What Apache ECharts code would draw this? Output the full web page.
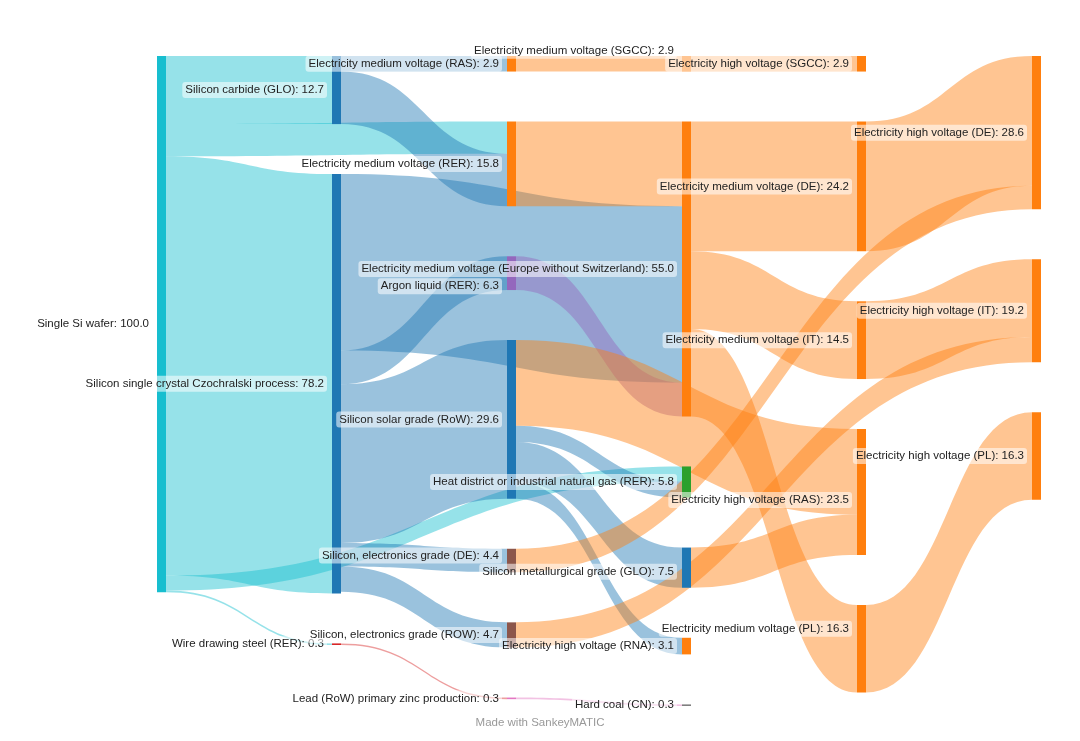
<!DOCTYPE html>
<html>
<head>
<meta charset="utf-8">
<script src="https://cdn.jsdelivr.net/npm/echarts@6/dist/echarts.min.js"></script>
<style>
html,body{margin:0;padding:0;background:#fff;}
#chart{width:1080px;height:741px;}
</style>
</head>
<body>
<div id="chart"></div>
<script>
// ---- data ----
const nodeNames = [
  'Single Si wafer',
  'Silicon carbide (GLO)',
  'Silicon single crystal Czochralski process',
  'Wire drawing steel (RER)',
  'Electricity medium voltage (RAS)',
  'Electricity medium voltage (RER)',
  'Argon liquid (RER)',
  'Silicon solar grade (RoW)',
  'Silicon, electronics grade (DE)',
  'Silicon, electronics grade (ROW)',
  'Lead (RoW) primary zinc production',
  'Electricity medium voltage (SGCC)',
  'Electricity medium voltage (Europe without Switzerland)',
  'Heat district or industrial natural gas (RER)',
  'Silicon metallurgical grade (GLO)',
  'Electricity high voltage (RNA)',
  'Hard coal (CN)',
  'Electricity high voltage (SGCC)',
  'Electricity medium voltage (DE)',
  'Electricity medium voltage (IT)',
  'Electricity high voltage (RAS)',
  'Electricity medium voltage (PL)',
  'Electricity high voltage (DE)',
  'Electricity high voltage (IT)',
  'Electricity high voltage (PL)'
];
const nodeValues = [
  100.0, 12.7, 78.2, 0.3, 2.9, 15.8, 6.3, 29.6, 4.4, 4.7, 0.3,
  2.9, 55.0, 5.8, 7.5, 3.1, 0.3,
  2.9, 24.2, 14.5, 23.5, 16.3,
  28.6, 19.2, 16.3
];
const linkSources = [
  'Single Si wafer','Single Si wafer','Single Si wafer','Single Si wafer','Single Si wafer',
  'Silicon carbide (GLO)','Silicon carbide (GLO)',
  'Silicon single crystal Czochralski process','Silicon single crystal Czochralski process',
  'Silicon single crystal Czochralski process','Silicon single crystal Czochralski process',
  'Silicon single crystal Czochralski process',
  'Wire drawing steel (RER)',
  'Electricity medium voltage (RAS)',
  'Electricity medium voltage (RER)',
  'Argon liquid (RER)',
  'Silicon solar grade (RoW)','Silicon solar grade (RoW)','Silicon solar grade (RoW)','Silicon solar grade (RoW)',
  'Silicon, electronics grade (DE)',
  'Silicon, electronics grade (ROW)',
  'Lead (RoW) primary zinc production',
  'Electricity medium voltage (SGCC)',
  'Electricity medium voltage (Europe without Switzerland)',
  'Electricity medium voltage (Europe without Switzerland)',
  'Electricity medium voltage (Europe without Switzerland)',
  'Silicon metallurgical grade (GLO)',
  'Electricity medium voltage (DE)',
  'Electricity medium voltage (IT)',
  'Electricity medium voltage (PL)'
];
const linkTargets = [
  'Silicon carbide (GLO)','Silicon single crystal Czochralski process','Wire drawing steel (RER)',
  'Electricity medium voltage (RER)','Heat district or industrial natural gas (RER)',
  'Electricity medium voltage (RAS)','Electricity medium voltage (RER)',
  'Electricity medium voltage (Europe without Switzerland)','Argon liquid (RER)',
  'Silicon solar grade (RoW)','Silicon, electronics grade (DE)',
  'Silicon, electronics grade (ROW)',
  'Lead (RoW) primary zinc production',
  'Electricity medium voltage (SGCC)',
  'Electricity medium voltage (Europe without Switzerland)',
  'Electricity medium voltage (Europe without Switzerland)',
  'Electricity high voltage (RAS)','Heat district or industrial natural gas (RER)',
  'Silicon metallurgical grade (GLO)','Electricity high voltage (RNA)',
  'Electricity high voltage (DE)',
  'Electricity high voltage (IT)',
  'Hard coal (CN)',
  'Electricity high voltage (SGCC)',
  'Electricity medium voltage (DE)',
  'Electricity medium voltage (IT)',
  'Electricity medium voltage (PL)',
  'Electricity high voltage (RAS)',
  'Electricity high voltage (DE)',
  'Electricity high voltage (IT)',
  'Electricity high voltage (PL)'
];
const linkValues = [
  12.7, 78.2, 0.3, 6.0, 2.8,
  2.9, 9.8,
  32.9, 6.3, 29.6, 4.4, 4.7,
  0.3,
  2.9,
  15.8,
  6.3,
  16.0, 3.0, 7.5, 3.1,
  4.4,
  4.7,
  0.3,
  2.9,
  24.2, 14.5, 16.3,
  7.5,
  24.2, 14.5, 16.3
];

// ---- styles ----
const ORANGE = '#ff7f0e', BLUE = '#1f77b4', CYAN = '#17becf';
const nodeColor = {
  'Single Si wafer': CYAN,
  'Silicon carbide (GLO)': BLUE,
  'Silicon single crystal Czochralski process': BLUE,
  'Wire drawing steel (RER)': '#d62728',
  'Argon liquid (RER)': '#9467bd',
  'Silicon solar grade (RoW)': BLUE,
  'Silicon, electronics grade (DE)': '#8c564b',
  'Silicon, electronics grade (ROW)': '#8c564b',
  'Lead (RoW) primary zinc production': '#e377c2',
  'Heat district or industrial natural gas (RER)': '#2ca02c',
  'Silicon metallurgical grade (GLO)': BLUE,
  'Hard coal (CN)': '#7f7f7f'
};
function colorOf(n) { return nodeColor[n] || ORANGE; }
// links into these targets take the target colour (right half of the diagram)
const targetColoured = new Set([
  'Electricity high voltage (RAS)','Electricity high voltage (DE)','Electricity high voltage (IT)'
]);
// small label nudges so neighbouring labels do not collide
const labelNudge = {
  'Electricity medium voltage (SGCC)': [0, -13],
  'Argon liquid (RER)': [0, 13],
  'Electricity medium voltage (PL)': [0, -20],
  'Electricity high voltage (RAS)': [0, 8],
  'Silicon, electronics grade (DE)': [0, -5],
  'Silicon metallurgical grade (GLO)': [0, 4]
};

const nodes = nodeNames.map((n, i) => {
  const d = { name: n, value: nodeValues[i], itemStyle: { color: colorOf(n), borderWidth: 0 } };
  if (labelNudge[n]) d.label = { offset: labelNudge[n] };
  return d;
});
const links = linkSources.map((s, i) => {
  const t = linkTargets[i];
  const c = targetColoured.has(t) ? colorOf(t) : colorOf(s);
  return { source: s, target: t, value: linkValues[i], lineStyle: { color: c, opacity: 0.45 } };
});

const chart = echarts.init(document.getElementById('chart'), null, { renderer: 'canvas' });
chart.setOption({
  backgroundColor: '#ffffff',
  animation: false,
  title: {
    text: 'Made with SankeyMATIC',
    left: 'center',
    bottom: 7,
    textStyle: { fontSize: 11.5, fontWeight: 'normal', color: '#999', fontFamily: 'Liberation Sans, Arial, sans-serif' }
  },
  series: [{
    type: 'sankey',
    left: 157,
    right: 39,
    top: 56,
    bottom: 35,
    nodeWidth: 9,
    nodeGap: 50,
    nodeAlign: 'left',
    layoutIterations: 0,
    draggable: false,
    emphasis: { disabled: true },
    data: nodes,
    links: links,
    lineStyle: { curveness: 0.5 },
    label: {
      position: 'left',
      distance: 5,
      fontSize: 11.5,
      color: '#222',
      fontFamily: 'Liberation Sans, Arial, sans-serif',
      backgroundColor: 'rgba(255,255,255,0.55)',
      borderRadius: 3,
      padding: [2, 3, 2, 3],
      formatter: p => p.name + ': ' + nodeValues[p.dataIndex].toFixed(1)
    }
  }]
});
</script>
</body>
</html>
